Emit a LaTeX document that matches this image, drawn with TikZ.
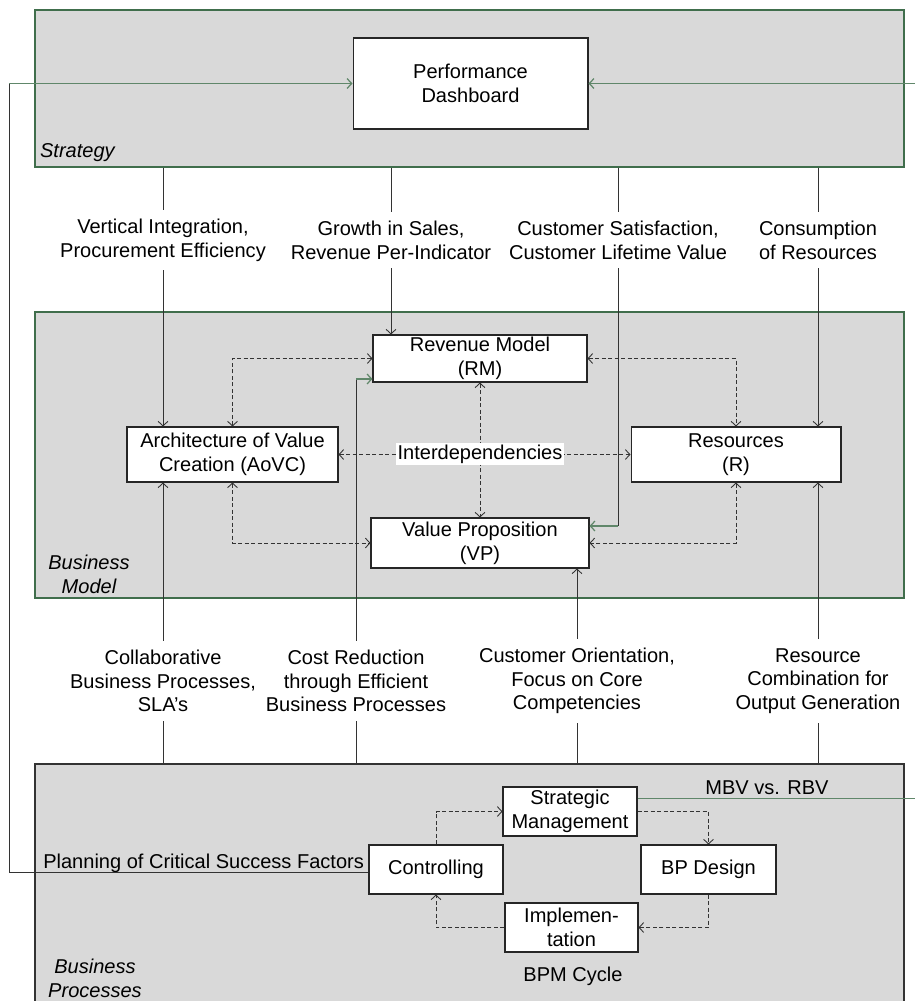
\documentclass[tikz,border=0pt]{standalone}
\usepackage{fontspec}
\setmainfont{Liberation Sans}
\usetikzlibrary{calc,arrows.meta}

\definecolor{layergray}{RGB}{217,217,217}
\definecolor{framegreen}{RGB}{64,110,76}
\definecolor{linkgreen}{RGB}{96,135,106}

\tikzset{
  >={Straight Barb[length=2.6pt,width=5.6pt]},
  layer/.style={draw=framegreen, line width=0.8pt, fill=layergray, inner sep=0pt},
  blk/.style={draw=black!85, line width=0.6pt, fill=white, align=center, inner sep=0pt},
  lbl/.style={align=center, inner sep=5pt},
  tag/.style={font={\fontsize{11.4}{13.5}\selectfont\itshape}, align=center, inner sep=1pt},
  flow/.style={draw=black!80, line width=0.5pt},
  fb/.style={draw=linkgreen, line width=0.7pt},
  dep/.style={draw=black!80, line width=0.5pt, dash pattern=on 2.4pt off 1.3pt}
}

\begin{document}
\begin{tikzpicture}[x=0.02cm, y=-0.02cm, font={\fontsize{11.4}{13.5}\selectfont}]

\useasboundingbox (0,0) rectangle (915,1001);

% layers
\node [layer, minimum width=17.38cm, minimum height=3.14cm] (strategy) at (469.5,88.5) {};
\node [layer, minimum width=17.38cm, minimum height=5.72cm] (bmodel) at (469.5,455) {};
\node [layer, draw=black!80, minimum width=17.38cm, minimum height=5cm] (bproc) at (469.5,889) {};

\node [tag, anchor=west] (strategy-tag) at (38,153) {Strategy};
\node [tag] (bmodel-tag) at (89,574) {Business\\Model};
\node [tag] (bproc-tag) at (95,978) {Business\\Processes};

% strategy
\node [blk, minimum width=4.7cm, minimum height=1.82cm] (pd) at (470.5,83.5) {Performance\\Dashboard};

% business model
\node [blk, minimum width=4.28cm, minimum height=0.94cm] (rm) at (480,358.5) {Revenue Model\\(RM)};
\node [blk, minimum width=4.22cm, minimum height=1.1cm] (aovc) at (232.5,454.5) {Architecture of Value\\Creation (AoVC)};
\node [blk, minimum width=4.2cm, minimum height=1.1cm] (res) at (736,454.5) {Resources\\(R)};
\node [blk, minimum width=4.36cm, minimum height=1cm] (vp) at (480,543) {Value Proposition\\(VP)};

% business processes
\node [blk, minimum width=2.68cm, minimum height=0.98cm] (sm) at (570,811.5) {Strategic\\Management};
\node [blk, minimum width=2.68cm, minimum height=0.98cm] (ctrl) at (436,869.5) {Controlling};
\node [blk, minimum width=2.7cm, minimum height=0.98cm] (bpd) at (708.5,869.5) {BP Design};
\node [blk, minimum width=2.66cm, minimum height=0.98cm] (impl) at (571.5,927.5) {Implemen-\\tation};

\node [lbl, inner sep=1pt] (cycle) at (573,976) {BPM Cycle};
\node [lbl, inner sep=1pt] (mbv) at (767,788) {MBV vs. RBV};
\node [lbl, inner sep=1pt, anchor=base east] (csf) at (366,868) {Planning of Critical Success Factors};

% labels between layers
\node [lbl] (vi) at (163,240) {Vertical Integration,\\Procurement Efficiency};
\node [lbl] (gs) at (391,240) {Growth in Sales,\\Revenue Per-Indicator};
\node [lbl] (cs) at (618,240) {Customer Satisfaction,\\Customer Lifetime Value};
\node [lbl] (cr) at (818,240) {Consumption\\of Resources};

\node [lbl] (cb) at (163,681) {Collaborative\\Business Processes,\\SLA's};
\node [lbl] (cred) at (356,681) {Cost Reduction\\through Efficient\\Business Processes};
\node [lbl] (co) at (577,681) {Customer Orientation,\\Focus on Core\\Competencies};
\node [lbl] (rc) at (818,681) {Resource\\Combination for\\Output Generation};

\coordinate (rimL) at (9,83.5);
\coordinate (rimR) at (925,83.5);

% strategy -> business model
\foreach \l in {vi,gs,cs,cr}
  \draw [flow] (strategy.south -| \l) -- (\l.north);
\draw [flow,->] (vi.south) -- (aovc.north -| vi);
\draw [flow,->] (gs.south) -- (rm.north -| gs);
\draw [flow] (cs.south) -- ($(vp.east -| cs)+(0,-17)$);
\draw [fb,->] ($(vp.east -| cs)+(0,-17)$) -- ($(vp.east)+(0,-17)$);
\draw [flow,->] (cr.south) -- (res.north -| cr);

% business processes -> business model
\foreach \l in {cb,cred,co,rc}
  \draw [flow] (bproc.north -| \l) -- (\l.south);
\draw [flow,->] (cb.north) -- (aovc.south -| cb);
\draw [flow] (cred.north) -- ($(rm.west -| cred)+(0,20.5)$);
\draw [fb,->] ($(rm.west -| cred)+(0,20.5)$) -- ($(rm.west)+(0,20.5)$);
\draw [flow,->] (co.north) -- (vp.south -| co);
\draw [flow,->] (rc.north) -- (res.south -| rc);

% interdependencies
\draw [dep,<->] (aovc.north) |- (rm.west);
\draw [dep,<->] (rm.east) -| (res.north);
\draw [dep,<->] (aovc.south) |- (vp.west);
\draw [dep,<->] (res.south) |- (vp.east);
\draw [dep,<->] (rm.south) -- (vp.north);
\draw [dep,<->] (aovc.east) -- (res.west);
\node [fill=white, inner sep=1pt] (inter) at (480,454) {Interdependencies};

% bpm cycle
\draw [dep,->] (ctrl.north) |- (sm.west);
\draw [dep,->] (sm.east) -| (bpd.north);
\draw [dep,->] (bpd.south) |- (impl.east);
\draw [dep,->] (impl.west) -| (ctrl.south);

% feedback to the dashboard
\draw [fb,->] ($(sm.east)+(0,-13)$) -| (rimR) -- (pd.east);
\draw [flow] ($(ctrl.west)+(0,2.5)$) -| (rimL);
\draw [fb,->] (rimL) -- (pd.west);

\end{tikzpicture}
\end{document}
